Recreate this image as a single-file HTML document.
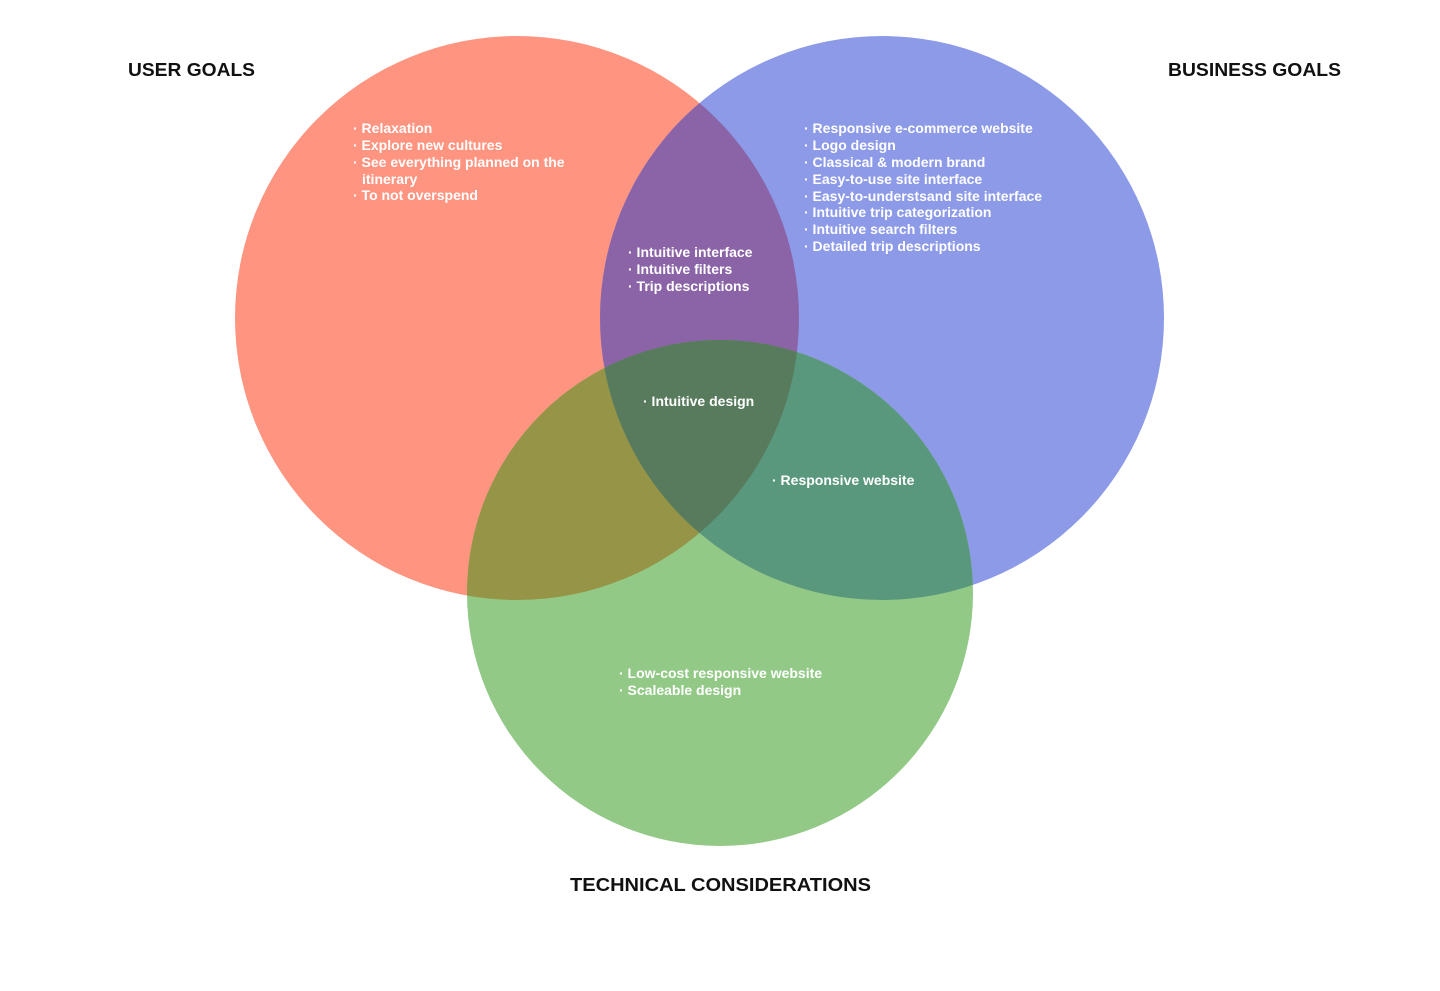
<!DOCTYPE html>
<html><head><meta charset="utf-8"><style>
html,body{margin:0;padding:0;background:#fff;}
svg{display:block;}
text{font-family:"Liberation Sans",sans-serif;font-weight:bold;}
.t{fill:#111;font-size:18px;}
.i{fill:#fff;font-size:14px;}
</style></head><body>
<svg width="1440" height="991" viewBox="0 0 1440 991" xmlns="http://www.w3.org/2000/svg">
<defs>
<clipPath id="cr"><circle cx="517" cy="318" r="282"/></clipPath>
<clipPath id="cb"><circle cx="882" cy="318" r="282"/></clipPath>
<clipPath id="cg"><circle cx="720" cy="593" r="253"/></clipPath>
</defs>
<circle cx="517" cy="318" r="282" fill="#FF9480"/>
<circle cx="882" cy="318" r="282" fill="#8C9AE8"/>
<circle cx="720" cy="593" r="253" fill="#93C987"/>
<g clip-path="url(#cr)"><circle cx="882" cy="318" r="282" fill="#8B64A8"/></g>
<g clip-path="url(#cr)"><circle cx="720" cy="593" r="253" fill="#969447"/></g>
<g clip-path="url(#cb)"><circle cx="720" cy="593" r="253" fill="#5A987D"/></g>
<g clip-path="url(#cr)"><g clip-path="url(#cb)"><circle cx="720" cy="593" r="253" fill="#587A5D"/></g></g>

<text class="t" x="128" y="76" textLength="127" lengthAdjust="spacingAndGlyphs">USER GOALS</text>
<text class="t" x="1168" y="76" textLength="173" lengthAdjust="spacingAndGlyphs">BUSINESS GOALS</text>
<text class="t" x="570" y="891" textLength="301" lengthAdjust="spacingAndGlyphs">TECHNICAL CONSIDERATIONS</text>

<g class="i">
<text x="353" y="133">· Relaxation</text>
<text x="353" y="150">· Explore new cultures</text>
<text x="353" y="167">· See everything planned on the</text>
<text x="362" y="184">itinerary</text>
<text x="353" y="200">· To not overspend</text>

<text x="804" y="133">· Responsive e-commerce website</text>
<text x="804" y="150">· Logo design</text>
<text x="804" y="167">· Classical &amp; modern brand</text>
<text x="804" y="184">· Easy-to-use site interface</text>
<text x="804" y="201">· Easy-to-understsand site interface</text>
<text x="804" y="217">· Intuitive trip categorization</text>
<text x="804" y="234">· Intuitive search filters</text>
<text x="804" y="251">· Detailed trip descriptions</text>

<text x="628" y="257">· Intuitive interface</text>
<text x="628" y="274">· Intuitive filters</text>
<text x="628" y="291">· Trip descriptions</text>

<text x="643" y="406">· Intuitive design</text>
<text x="772" y="485">· Responsive website</text>

<text x="619" y="678">· Low-cost responsive website</text>
<text x="619" y="695">· Scaleable design</text>
</g>
</svg>
</body></html>
